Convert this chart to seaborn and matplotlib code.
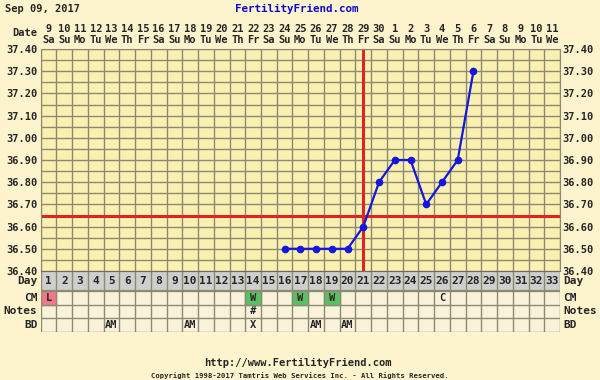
import numpy as np
import matplotlib
matplotlib.use("Agg")
import matplotlib.pyplot as plt
import seaborn as sns
from matplotlib.patches import Rectangle

sns.set_style("white")
plt.rcParams["font.family"] = ["DejaVu Sans Mono"]
plt.rcParams["font.weight"] = "bold"

# chart data
days = list(range(1, 34))
dates = list(range(9, 31)) + list(range(1, 12))
weekdays = ["Sa", "Su", "Mo", "Tu", "We", "Th", "Fr"]
temp_days = [16, 17, 18, 19, 20, 21, 22, 23, 24, 25, 26, 27, 28]
temps = [36.50, 36.50, 36.50, 36.50, 36.50, 36.60, 36.80, 36.90, 36.90, 36.70, 36.80, 36.90, 37.30]
coverline = 36.65
ovulation_day = 21
y_ticks = [37.40, 37.30, 37.20, 37.10, 37.00, 36.90, 36.80, 36.70, 36.60, 36.50, 36.40]

cm_days = [1, 14, 17, 19, 26]
cm_vals = ["L", "W", "W", "W", "C"]
notes_days = [14]
notes_vals = ["#"]
bd_days = [5, 10, 14, 18, 20]
bd_vals = ["AM", "AM", "X", "AM", "AM"]
cm_colors = {"L": "#f07888", "W": "#5cbf68"}

bg = "#fdf4cd"
plot_bg = "#faf0b2"
cell_bg = "#fbf2dc"
grid_c = "#8c8a70"
W, H = 600, 380

fig = plt.figure(figsize=(6, 3.8), dpi=100, facecolor=bg)

def box(x0, y0, x1, y1):
    return [x0 / W, 1 - y1 / H, (x1 - x0) / W, (y1 - y0) / H]

ax = fig.add_axes(box(40.7, 49, 560, 271))
ax.set_facecolor(plot_bg)
ax.set_xlim(0.5, 33.5)
ax.set_ylim(36.40, 37.40)

# grid
for d in np.arange(0.5, 34.5, 1):
    ax.axvline(d, color=grid_c, lw=1, zorder=1)
for t in np.arange(36.40, 37.401, 0.05):
    ax.axhline(t, color=grid_c, lw=1, zorder=1)

ax.axhline(coverline, color="#e02424", lw=2.2, zorder=2)
ax.axvline(ovulation_day, color="#e02424", lw=2.2, zorder=2)

sns.lineplot(x=temp_days, y=temps, ax=ax, color="#1616dc", lw=1.6,
             marker="o", markersize=5.5, markeredgewidth=0, zorder=3)

ax.set_yticks(y_ticks)
ax.set_yticklabels([f"{v:.2f}" for v in y_ticks])
ax.tick_params(axis="y", labelsize=7.5, length=0, pad=2, labelright=True)
ax.set_xticks(days)
ax.set_xticklabels([f"{d}\n{weekdays[(i) % 7]}" for i, d in enumerate(dates)],
                   linespacing=1.05)
ax.tick_params(axis="x", labelsize=7.5, length=0, pad=3,
               labeltop=True, labelbottom=False)
for s in ax.spines.values():
    s.set_color(grid_c)

# table below
tab = fig.add_axes(box(40.7, 271, 560, 331.7))
tab.set_xlim(0.5, 33.5)
row_edges = [0, 20, 33.5, 47, 60.7]
tab.set_ylim(row_edges[-1], 0)
tab.set_facecolor(cell_bg)
tab.axis("off")

tab.add_patch(Rectangle((0.5, 0), 33, row_edges[1], color="#cfcfcf", zorder=0))
for d, v in zip(cm_days, cm_vals):
    if v in cm_colors:
        tab.add_patch(Rectangle((d - 0.5, row_edges[1]), 1, row_edges[2] - row_edges[1],
                                color=cm_colors[v], zorder=0))
tab.add_patch(Rectangle((0.5, row_edges[1]), 33, row_edges[-1] - row_edges[1],
                        color=cell_bg, zorder=-1))

for d in np.arange(0.5, 34.5, 1):
    tab.plot([d, d], [0, row_edges[-1]], color=grid_c, lw=1, zorder=1)
for i, r in enumerate(row_edges):
    tab.plot([0.5, 33.5], [r, r], color=grid_c if i else "#6f6d5c",
             lw=1.6 if i < 2 else 1, zorder=1)

mid = [(row_edges[i] + row_edges[i + 1]) / 2 for i in range(4)]
for d in days:
    tab.text(d, mid[0], str(d), ha="center", va="center", fontsize=8)
for d, v in zip(cm_days, cm_vals):
    tab.text(d, mid[1], v, ha="center", va="center", fontsize=7.5)
for d, v in zip(notes_days, notes_vals):
    tab.text(d, mid[2], v, ha="center", va="center", fontsize=7.5)
for d, v in zip(bd_days, bd_vals):
    tab.text(d, mid[3], v, ha="center", va="center", fontsize=7.5)

for lab, y in zip(["Day", "CM", "Notes", "BD"], mid):
    tab.text(0.3, y, lab, ha="right", va="center", fontsize=8)
    tab.text(33.7, y, lab, ha="left", va="center", fontsize=8)

# header and footer
fig.text(37 / W, 1 - 33 / H, "Date", ha="right", va="center", fontsize=7.5)
fig.text(5 / W, 1 - 9 / H, "Sep 09, 2017", ha="left", va="center", fontsize=7.5)
fig.text(297 / W, 1 - 9 / H, "FertilityFriend.com", ha="center", va="center",
         fontsize=7.8, color="#0a0ac8")
fig.text(298 / W, 1 - 363 / H, "http://www.FertilityFriend.com", ha="center",
         va="center", fontsize=7.5)
fig.text(300 / W, 1 - 376 / H,
         "Copyright 1998-2017 Tamtris Web Services Inc. - All Rights Reserved.",
         ha="center", va="center", fontsize=5.2)

fig.savefig("out.png", dpi=100, facecolor=bg)
